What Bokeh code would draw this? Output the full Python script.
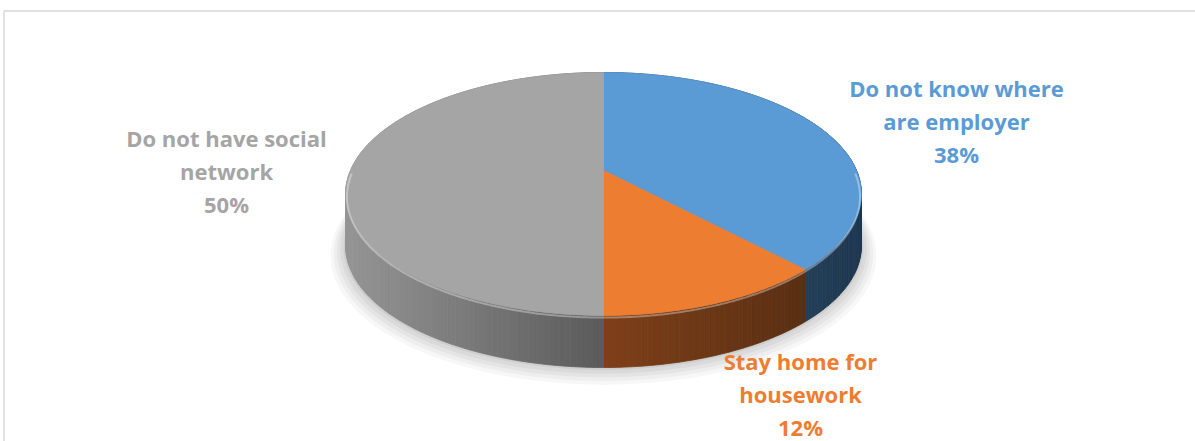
import numpy as np
from bokeh.plotting import figure
from bokeh.models import Range1d, ColumnDataSource
from bokeh.embed import file_html
from bokeh.resources import INLINE
from bokeh.core.properties import value

# ---- data ----
categories = ["Do not know where are employer", "Stay home for housework", "Do not have social network"]
label_lines = [["Do not know where", "are employer"], ["Stay home for", "housework"], ["Do not have social", "network"]]
percents = [38, 12, 50]
top_colors = ["#5B9BD5", "#ED7D31", "#A5A5A5"]
label_colors = ["#5B9BD5", "#ED7D31", "#A5A5A5"]

# ---- layout / style ----
W, H = 1195, 441
CX, CY = 603.0, 170.0     # apex of the pie on screen
W0 = 253.0                # half width at apex depth
PC = 0.1934               # perspective coefficient
PB = -84.07               # perspective vertical term
DEPTH = 52.0              # thickness of the pie
label_pos = [(956, 87), (800, 360), (226, 137)]   # center x, first line y
LINE_STEP = 33
FONT = "Open Sans"
FONT_SIZE = "22px"

p = figure(width=W, height=H, x_range=Range1d(0, W), y_range=Range1d(H, 0),
           output_backend="svg", toolbar_location=None, min_border=0)
p.axis.visible = False
p.grid.visible = False
p.outline_line_color = None
p.background_fill_color = "white"
p.border_fill_color = "white"

# chart border
p.quad(left=[3.5], right=[W + 5], top=[10.5], bottom=[H + 5], fill_color=None,
       line_color="#d9d9d9", line_width=1.5)


def proj(phi, drop=0.0, scale=1.0):
    u = np.sin(phi) * scale
    v = np.cos(phi) * scale
    d = 1 + PC * v
    x = CX + W0 * u / d
    y = (CY + PB * v) / d + drop
    return x, y


def hex2rgb(h):
    h = h.lstrip("#")
    return np.array([int(h[i:i + 2], 16) for i in (0, 2, 4)], dtype=float)


def lerp_col(c1, c2, t):
    t = min(max(t, 0.0), 1.0)
    c = hex2rgb(c1) * (1 - t) + hex2rgb(c2) * t
    return "#%02x%02x%02x" % tuple(int(round(v)) for v in c)


# slice angles (clockwise from 12 o'clock)
fr = np.array(percents, dtype=float) / sum(percents)
ends = np.cumsum(fr) * 2 * np.pi
starts = np.concatenate([[0.0], ends[:-1]])

# ---- soft shadow under the pie ----
full = np.linspace(0, 2 * np.pi, 240)
for k, a in zip([14, 11, 8, 5, 2], [0.03, 0.035, 0.04, 0.045, 0.05]):
    sx, sy = proj(full, drop=DEPTH + k * 0.5, scale=1.0 + k * 0.004)
    p.patch(list(sx), list(sy), fill_color="#000000", fill_alpha=a, line_color=None)

# ---- side walls ----
side_grad = [("#24405A", "#1F3850", 800, 858), ("#5A3012", "#80401A", 800, 597),
             ("#5C5C5C", "#959595", 597, 345)]
xs_list, ys_list, cols = [], [], []
for i in range(len(percents)):
    phis = np.linspace(starts[i], ends[i], max(int(fr[i] * 360), 4) + 1)
    c_a, c_b, xa, xb = side_grad[i]
    for j in range(len(phis) - 1):
        x1, y1 = proj(phis[j])
        x2, y2 = proj(phis[j + 1])
        t = ((x1 + x2) / 2 - xa) / (xb - xa)
        cols.append(lerp_col(c_a, c_b, t))
        xs_list.append([x1, x2, x2, x1])
        ys_list.append([y1, y2, y2 + DEPTH, y1 + DEPTH])
p.patches(xs_list, ys_list, fill_color=cols, line_color=cols, line_width=0.8)

# ---- top faces ----
top_xs, top_ys = [], []
for i in range(len(percents)):
    phis = np.linspace(starts[i], ends[i], max(int(fr[i] * 360), 4) + 1)
    rx, ry = proj(phis)
    top_xs.append([CX] + list(rx))
    top_ys.append([CY] + list(ry))
p.patches(top_xs, top_ys, fill_color=top_colors, line_color=top_colors, line_width=0.8)

# bevel highlight along the front rim
for i in range(len(percents)):
    lo = max(starts[i], np.pi * 0.5)
    hi = min(ends[i], np.pi * 1.5)
    if hi > lo:
        phis = np.linspace(lo, hi, 120)
        hx, hy = proj(phis, drop=3.0, scale=0.995)
        p.line(list(hx), list(hy), line_color="white", line_alpha=0.35, line_width=2)

# ---- labels ----
tx, ty, tt, tc = [], [], [], []
for i in range(len(percents)):
    lines = label_lines[i] + [f"{percents[i]}%"]
    x0, y0 = label_pos[i]
    for k, s in enumerate(lines):
        tx.append(x0)
        ty.append(y0 + k * LINE_STEP)
        tt.append(s)
        tc.append(label_colors[i])
src = ColumnDataSource(dict(x=tx, y=ty, text=tt, color=tc))
p.text(x="x", y="y", text="text", source=src, text_color="color", text_align="center",
       text_baseline="middle", text_font=value(FONT), text_font_style="bold",
       text_font_size=FONT_SIZE)

open("out.html", "w").write(file_html(p, INLINE))
